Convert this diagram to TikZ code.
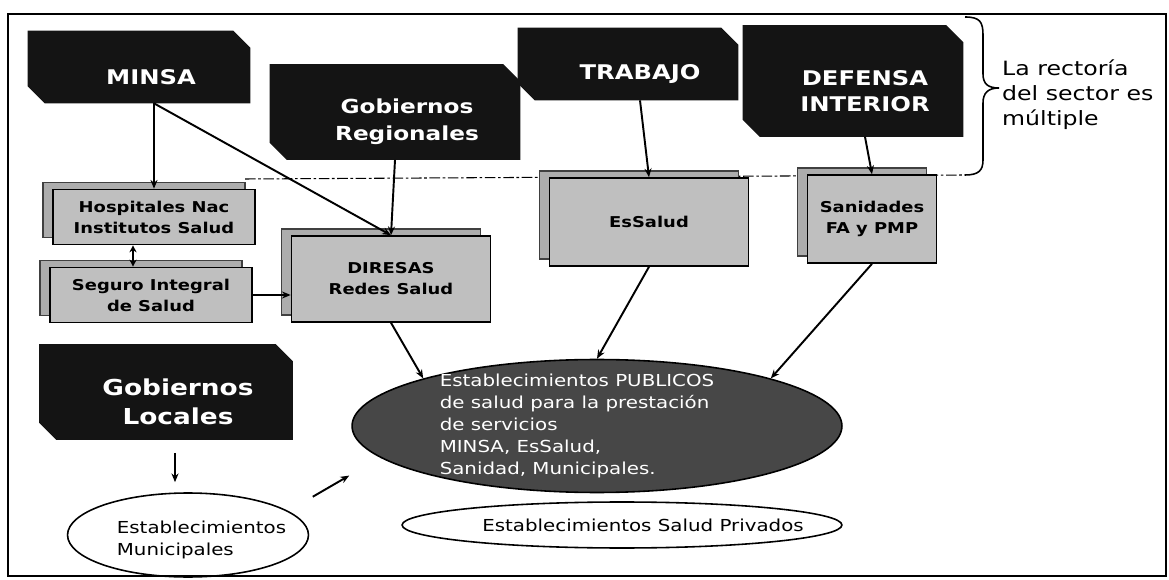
\documentclass[tikz,border=0pt]{standalone}
\usepackage{fontspec}
\setmainfont{DejaVu Sans}[FakeStretch=1.2]
\usetikzlibrary{shapes.geometric, shadows, positioning, calc, arrows.meta, backgrounds}

\begin{document}
\begin{tikzpicture}[x=0.02cm, y=-0.02cm]
    \tikzstyle{head}=[rectangle, inner sep=0pt];
    \tikzstyle{headtxt}=[text=white, font=\bfseries\fontsize{11.5}{15}\selectfont, align=center, xshift=0.24cm, yshift=-0.2cm];
    \tikzstyle{unit}=[rectangle, draw, line width=0.9pt, fill=black!25, font=\bfseries\fontsize{8.5}{12}\selectfont, align=center, copy shadow={shadow xshift=-0.2cm, shadow yshift=0.14cm, fill=black!32, draw=black!75}];
    \tikzstyle{est}=[ellipse, draw, line width=0.9pt, inner sep=0pt];
    \tikzstyle{estxt}=[font=\fontsize{9.4}{12.5}\selectfont, align=left];
    \tikzstyle{conn}=[-{Stealth[length=5pt, width=4pt]}, line width=1.1pt];

    \useasboundingbox (0,0) rectangle (1169,580);
    \draw[line width=1.4pt] (8,14) rectangle (1166,576);

    % rectoria
    \draw[line width=0.6pt, dash pattern=on 6pt off 1.5pt on 1.5pt off 1.5pt] (245,179) -- (965,175);
    \draw[line width=0.9pt] (965,17) .. controls (980,17) and (983,22) .. (983,35) -- (983,74)
        .. controls (983,84) and (988,88) .. (999,88) .. controls (988,88) and (983,93) .. (983,103)
        -- (983,160) .. controls (983,171) and (978,175) .. (965,175);
    \node[anchor=west, align=left, font=\fontsize{11.2}{14.2}\selectfont] (rectoria) at (996,95) {La rectoría\\del sector es\\múltiple};

    % ministerios
    \node[head, minimum width=4.44cm, minimum height=1.44cm, label={[headtxt]center:MINSA}] (minsa) at (139,67) {};
    \node[head, minimum width=5cm, minimum height=1.9cm, label={[headtxt, font=\bfseries\fontsize{11}{15.5}\selectfont]center:{Gobiernos\\Regionales}}] (gobreg) at (395,112) {};
    \node[head, minimum width=4.4cm, minimum height=1.44cm, label={[headtxt]center:TRABAJO}] (trabajo) at (628,64) {};
    \node[head, minimum width=4.4cm, minimum height=2.22cm, label={[headtxt]center:{DEFENSA\\INTERIOR}}] (defensa) at (853,81) {};
    \node[head, minimum width=5.06cm, minimum height=1.9cm, label={[headtxt, font=\bfseries\fontsize{12.5}{16.5}\selectfont]center:{Gobiernos\\Locales}}] (gobloc) at (166,392) {};

    % cut corners
    \begin{scope}[on background layer]
    \foreach \n in {minsa, gobreg, trabajo, defensa, gobloc}
        \fill[black!92] (\n.north west) -- ($(\n.north east)+(-17,0)$) -- ($(\n.north east)+(0,17)$)
            -- (\n.south east) -- ($(\n.south west)+(17,0)$) -- ($(\n.south west)+(0,-17)$) -- cycle;
    \end{scope}

    % unidades
    \node[unit, minimum width=4.04cm, minimum height=1.1cm] (hosp) at (154,217) {Hospitales Nac\\Institutos Salud};
    \node[unit, minimum width=4.04cm, minimum height=1.1cm] (sis) at (151,295) {Seguro Integral\\de Salud};
    \node[unit, minimum width=3.98cm, minimum height=1.72cm] (diresas) at (391,279) {DIRESAS\\Redes Salud};
    \node[unit, minimum width=3.98cm, minimum height=1.76cm] (essalud) at (649,222) {EsSalud};
    \node[unit, minimum width=2.58cm, minimum height=1.76cm] (sanid) at (872,219) {Sanidades\\FA y PMP};

    % establecimientos
    \node[est, fill=black!72, minimum width=9.8cm, minimum height=2.66cm] (pub) at (597,426) {};
    \node[estxt, text=white] (pubtxt) at (577,426) {Establecimientos PUBLICOS\\de salud para la prestación\\de servicios\\MINSA, EsSalud,\\Sanidad, Municipales.};
    \node[est, minimum width=8.8cm, minimum height=0.92cm, label={[estxt, xshift=0.42cm]center:Establecimientos Salud Privados}] (priv) at (622,525) {};
    \node[est, minimum width=4.82cm, minimum height=1.68cm, label={[estxt, xshift=0.27cm, yshift=-0.1cm]center:{Establecimientos\\Municipales}}] (muni) at (188,535) {};

    \path[conn]
    (minsa.south -| hosp.north) edge (hosp.north)
    (minsa.south -| hosp.north) edge (diresas.north)
    (gobreg.south) edge (diresas.north)
    ($(trabajo.south)+(12,0)$) edge (essalud.north)
    ($(defensa.south)+(12,0)$) edge (sanid.north)
    (sis.east) edge (diresas.west |- sis.east)
    (diresas.south) edge (pub.north west)
    (essalud.south) edge (pub.north)
    (sanid.south) edge (pub.north east)
    ($(gobloc.south)+(9,13)$) edge ($(gobloc.south |- muni.north)+(9,-10)$)
    ($(muni.north east)+(39,-8)$) edge ($(pub.south west)+(-74,2)$);
    \path[conn, {Stealth[length=4pt, width=4pt]}-{Stealth[length=4pt, width=4pt]}]
    ($(hosp.south)+(-21,0)$) edge ($(hosp.south |- sis.north)+(-21,0)$);
\end{tikzpicture}
\end{document}
